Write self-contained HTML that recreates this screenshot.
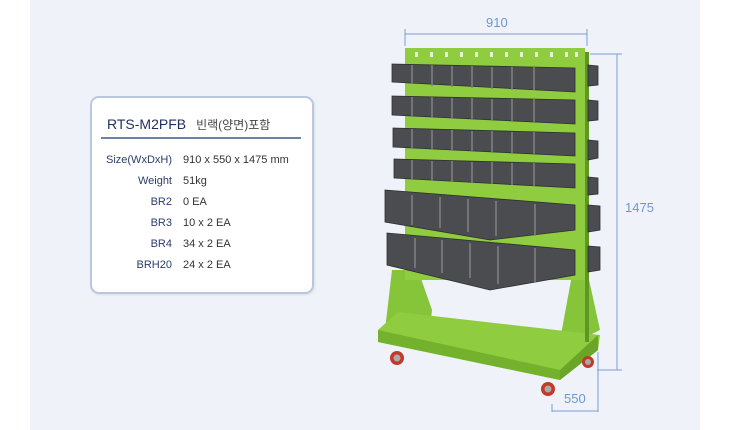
<!DOCTYPE html>
<html><head><meta charset="utf-8"><style>
body{margin:0;width:730px;height:430px;background:#fff;overflow:hidden;font-family:"Liberation Sans","Noto Sans CJK KR",sans-serif;}
.bg{position:absolute;left:30px;top:0;width:670px;height:430px;background:#eff3f9;}
.card{position:absolute;left:90px;top:96px;width:220px;height:194px;background:#fff;border:2px solid #b9c8de;border-radius:9px;box-shadow:1px 1px 2px rgba(0,0,0,.08);}
.t{position:absolute;left:15px;top:18px;font-size:14px;color:#1d2f5c;}
.t span{font-size:12px;color:#444;margin-left:10px;}
.ln{position:absolute;left:9px;top:39px;width:200px;height:2px;background:#6d82a6;}
.row{position:absolute;left:0;font-size:11px;}
.row .k{position:absolute;right:0;width:80px;text-align:right;color:#2b3d6b;}
.row .v{position:absolute;left:91px;white-space:nowrap;color:#333;}
</style></head><body>
<div class="bg"></div>
<div class="card">
<div class="t">RTS-M2PFB<span>빈랙(양면)포함</span></div>
<div class="ln"></div>
<div class="row" style="top:56px;width:80px"><div class="k">Size(WxDxH)</div><div class="v">910 x 550 x 1475 mm</div></div>
<div class="row" style="top:77px;width:80px"><div class="k">Weight</div><div class="v">51kg</div></div>
<div class="row" style="top:98px;width:80px"><div class="k">BR2</div><div class="v">0 EA</div></div>
<div class="row" style="top:119px;width:80px"><div class="k">BR3</div><div class="v">10 x 2 EA</div></div>
<div class="row" style="top:140px;width:80px"><div class="k">BR4</div><div class="v">34 x 2 EA</div></div>
<div class="row" style="top:161px;width:80px"><div class="k">BRH20</div><div class="v">24 x 2 EA</div></div>
</div>
<svg style="position:absolute;left:0;top:0" width="730" height="430">
<g stroke="#7b9fd3" stroke-width="1" fill="none">
<line x1="405" y1="34" x2="587" y2="34"/><line x1="405" y1="29" x2="405" y2="46"/><line x1="587" y1="29" x2="587" y2="46"/>
<line x1="617" y1="54" x2="617" y2="370"/><line x1="590" y1="54" x2="622" y2="54"/><line x1="597" y1="370" x2="622" y2="370"/>
<line x1="598" y1="352" x2="598" y2="412"/><line x1="552" y1="411" x2="598" y2="411"/><line x1="552" y1="404" x2="552" y2="412"/>
</g>
<g fill="#6f96d0" font-family="Liberation Sans" font-size="13">
<text x="486" y="27">910</text><text x="625" y="212">1475</text><text x="564" y="403">550</text></g>
<polygon points="392,270 418,270 432,310 430,328 385,330" fill="#86c43a"/>
<polygon points="572,275 588,275 600,330 580,340 560,340" fill="#86c43a"/>
<polygon points="378,330 398,312 600,335 598,350 560,380 378,342" fill="#8fcc3f"/>
<polygon points="378,330 560,370 560,380 378,342" fill="#74b22e"/>
<polygon points="560,370 598,335 598,350 560,380" fill="#6aa528"/>
<rect x="405" y="48" width="180" height="232" fill="#8fcc3f"/>
<rect x="585" y="52" width="4" height="290" fill="#5f9624"/>
<g fill="#e8f3d4">
<rect x="415" y="52" width="3" height="5"/><rect x="430" y="52" width="3" height="5"/><rect x="445" y="52" width="3" height="5"/><rect x="460" y="52" width="3" height="5"/><rect x="475" y="52" width="3" height="5"/><rect x="490" y="52" width="3" height="5"/><rect x="505" y="52" width="3" height="5"/><rect x="520" y="52" width="3" height="5"/><rect x="535" y="52" width="3" height="5"/><rect x="550" y="52" width="3" height="5"/><rect x="565" y="52" width="3" height="5"/><rect x="575" y="52" width="3" height="5"/>
</g>
<g fill="#4a4c4f" stroke="#2e2f31" stroke-width="0.8">
<polygon points="392,64 575,68 575,92 392,82"/>
<polygon points="392,96 575,100 575,124 392,115"/>
<polygon points="393,128 575,133 575,156 393,147"/>
<polygon points="394,159 575,164 575,188 394,178"/>
<polygon points="385,190 575,205 575,230 490,240 385,222"/>
<polygon points="387,233 575,250 575,275 490,290 387,265"/>
<polygon points="588,65 598,66 598,85 588,86"/><polygon points="588,100 598,101 598,120 588,121"/>
<polygon points="588,140 598,141 598,158 588,160"/><polygon points="588,177 598,178 598,194 588,195"/>
<polygon points="588,205 600,206 600,230 588,232"/><polygon points="588,246 600,247 600,270 588,272"/>
</g>
<g stroke="#808285" stroke-width="1.5">
<line x1="412" y1="65" x2="412" y2="84"/><line x1="432" y1="65" x2="432" y2="86"/><line x1="452" y1="66" x2="452" y2="87"/><line x1="472" y1="66" x2="472" y2="88"/><line x1="492" y1="67" x2="492" y2="89"/><line x1="512" y1="67" x2="512" y2="90"/><line x1="534" y1="67" x2="534" y2="90"/>
<line x1="412" y1="97" x2="412" y2="117"/><line x1="432" y1="97" x2="432" y2="118"/><line x1="452" y1="98" x2="452" y2="119"/><line x1="472" y1="98" x2="472" y2="120"/><line x1="492" y1="99" x2="492" y2="121"/><line x1="512" y1="99" x2="512" y2="122"/><line x1="534" y1="99" x2="534" y2="122"/>
<line x1="412" y1="129" x2="412" y2="149"/><line x1="432" y1="130" x2="432" y2="150"/><line x1="452" y1="130" x2="452" y2="151"/><line x1="472" y1="131" x2="472" y2="152"/><line x1="492" y1="131" x2="492" y2="153"/><line x1="512" y1="132" x2="512" y2="154"/><line x1="534" y1="132" x2="534" y2="154"/>
<line x1="412" y1="160" x2="412" y2="180"/><line x1="432" y1="161" x2="432" y2="181"/><line x1="452" y1="161" x2="452" y2="182"/><line x1="472" y1="162" x2="472" y2="183"/><line x1="492" y1="162" x2="492" y2="184"/><line x1="512" y1="163" x2="512" y2="185"/><line x1="534" y1="163" x2="534" y2="186"/>
<line x1="412" y1="195" x2="412" y2="225"/><line x1="440" y1="197" x2="440" y2="228"/><line x1="468" y1="199" x2="468" y2="232"/><line x1="496" y1="201" x2="496" y2="236"/><line x1="535" y1="204" x2="535" y2="236"/>
<line x1="415" y1="238" x2="415" y2="268"/><line x1="442" y1="240" x2="442" y2="273"/><line x1="470" y1="243" x2="470" y2="278"/><line x1="498" y1="246" x2="498" y2="284"/><line x1="535" y1="248" x2="535" y2="282"/>
</g>
<g><circle cx="397" cy="358" r="7" fill="#c23a2a"/><circle cx="397" cy="358" r="3.5" fill="#aaa"/>
<circle cx="548" cy="389" r="7" fill="#c23a2a"/><circle cx="548" cy="389" r="3.5" fill="#aaa"/>
<circle cx="588" cy="362" r="6" fill="#c23a2a"/><circle cx="588" cy="362" r="3" fill="#aaa"/></g>
</svg>
</body></html>
